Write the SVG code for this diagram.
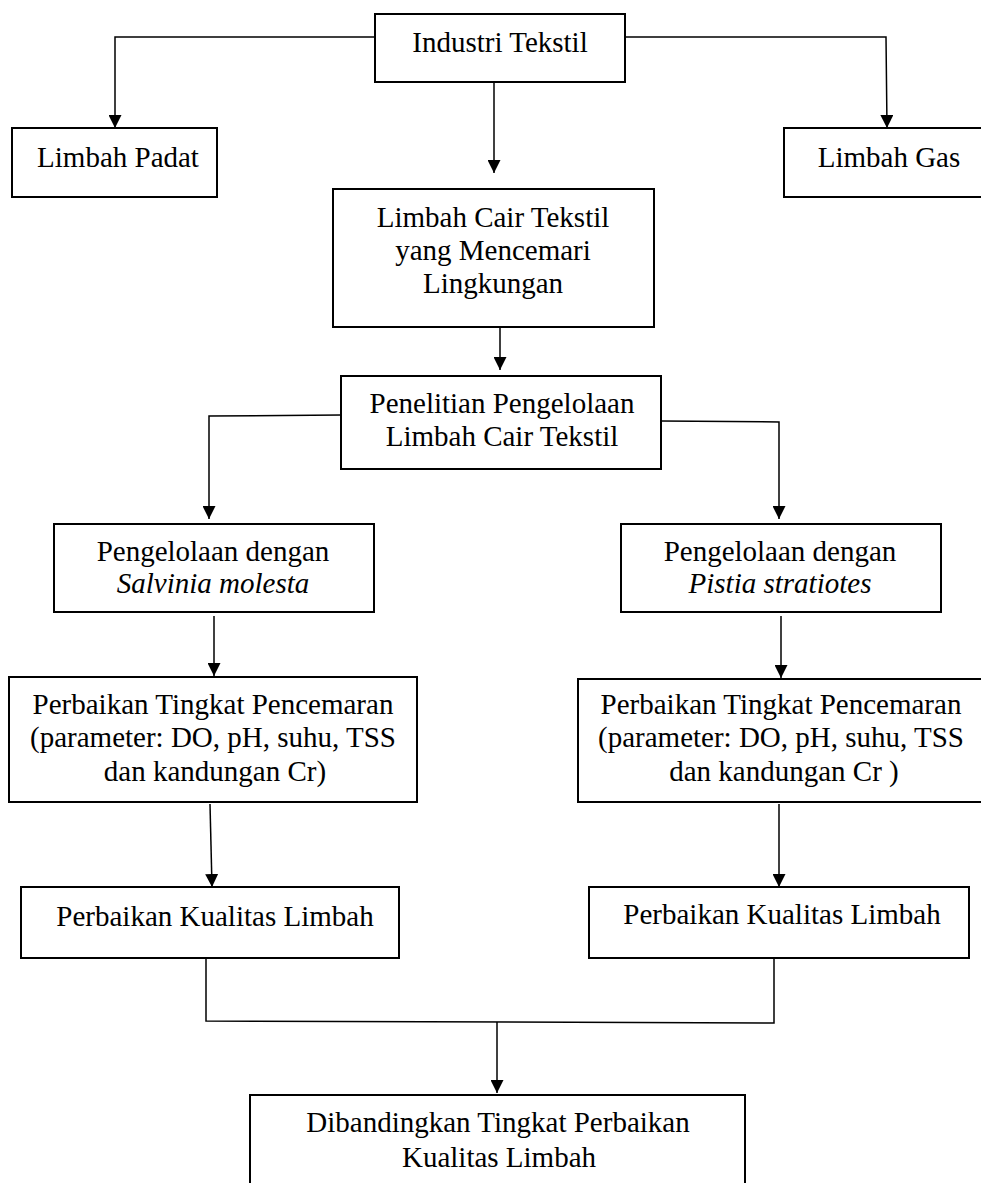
<svg xmlns="http://www.w3.org/2000/svg" width="981" height="1183" viewBox="0 0 981 1183">
<style>
.box{fill:#fff;stroke:#000;stroke-width:2}
.t{font-family:'Liberation Serif','Times New Roman',Times,'DejaVu Serif',serif;font-size:29px;fill:#000;text-anchor:middle}
.i{font-style:italic}
.c{fill:none;stroke:#000;stroke-width:1.5}
</style>
<defs>
<marker id="ah" markerUnits="userSpaceOnUse" markerWidth="13" markerHeight="13" refX="13" refY="6.5" orient="auto" viewBox="0 0 13 13">
<path d="M0,0 L13,6.5 L0,13 z" fill="#000"/>
</marker>
</defs>
<rect width="981" height="1183" fill="#fff"/>
<g id="connectors">
<polyline class="c" points="375,37 115,37 115,128" marker-end="url(#ah)"/>
<polyline class="c" points="625,37 886,37 887,128" marker-end="url(#ah)"/>
<line class="c" x1="494" y1="82" x2="494" y2="173" marker-end="url(#ah)"/>
<line class="c" x1="500" y1="327" x2="500" y2="370" marker-end="url(#ah)"/>
<polyline class="c" points="341,415 209,416 209,519" marker-end="url(#ah)"/>
<polyline class="c" points="661,421 779,422 779,519" marker-end="url(#ah)"/>
<line class="c" x1="214" y1="616" x2="214" y2="676" marker-end="url(#ah)"/>
<line class="c" x1="781" y1="616" x2="781" y2="678" marker-end="url(#ah)"/>
<line class="c" x1="210" y1="804" x2="212" y2="887" marker-end="url(#ah)"/>
<line class="c" x1="779" y1="804" x2="779" y2="887" marker-end="url(#ah)"/>
<polyline class="c" points="206,958 206,1021 774,1023 774,958"/>
<line class="c" x1="497" y1="1022" x2="497" y2="1093" marker-end="url(#ah)"/>
</g>
<g id="industri">
<rect class="box" x="375" y="14" width="250" height="68"/>
<text class="t" x="500" y="52">Industri Tekstil</text>
</g>
<g id="limbah-padat">
<rect class="box" x="12" y="128" width="205" height="69"/>
<text class="t" x="118" y="167">Limbah Padat</text>
</g>
<g id="limbah-gas">
<rect class="box" x="784" y="128" width="210" height="69"/>
<text class="t" x="889" y="167">Limbah Gas</text>
</g>
<g id="limbah-cair">
<rect class="box" x="333" y="189" width="321" height="138"/>
<text class="t" x="493" y="227">Limbah Cair Tekstil</text>
<text class="t" x="493" y="260">yang Mencemari</text>
<text class="t" x="493" y="293">Lingkungan</text>
</g>
<g id="penelitian">
<rect class="box" x="341" y="376" width="320" height="93"/>
<text class="t" x="502" y="413">Penelitian Pengelolaan</text>
<text class="t" x="502" y="446">Limbah Cair Tekstil</text>
</g>
<g id="salvinia">
<rect class="box" x="54" y="524" width="320" height="88"/>
<text class="t" x="213" y="561">Pengelolaan dengan</text>
<text class="t i" x="213" y="593">Salvinia molesta</text>
</g>
<g id="pistia">
<rect class="box" x="621" y="524" width="320" height="88"/>
<text class="t" x="780" y="561">Pengelolaan dengan</text>
<text class="t i" x="780" y="593">Pistia stratiotes</text>
</g>
<g id="pencemaran-kiri">
<rect class="box" x="9" y="677" width="408" height="125"/>
<text class="t" x="213" y="714">Perbaikan Tingkat Pencemaran</text>
<text class="t" x="213" y="747">(parameter: DO, pH, suhu, TSS</text>
<text class="t" x="215" y="781">dan kandungan Cr)</text>
</g>
<g id="pencemaran-kanan">
<rect class="box" x="578" y="679" width="412" height="123"/>
<text class="t" x="781" y="714">Perbaikan Tingkat Pencemaran</text>
<text class="t" x="781" y="747">(parameter: DO, pH, suhu, TSS</text>
<text class="t" x="784" y="781">dan kandungan Cr )</text>
</g>
<g id="kualitas-kiri">
<rect class="box" x="21" y="887" width="378" height="71"/>
<text class="t" x="215" y="926">Perbaikan Kualitas Limbah</text>
</g>
<g id="kualitas-kanan">
<rect class="box" x="589" y="887" width="380" height="71"/>
<text class="t" x="782" y="924">Perbaikan Kualitas Limbah</text>
</g>
<g id="dibandingkan">
<rect class="box" x="250" y="1095" width="495" height="100"/>
<text class="t" x="498" y="1132">Dibandingkan Tingkat Perbaikan</text>
<text class="t" x="499" y="1167">Kualitas Limbah</text>
</g>
</svg>
